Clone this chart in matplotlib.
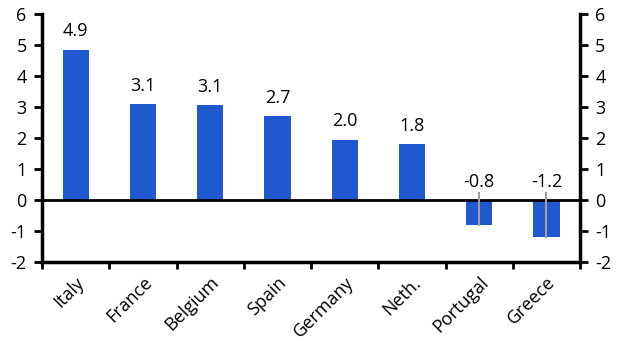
import matplotlib.pyplot as plt

plt.rcParams['font.family'] = ['Open Sans', 'DejaVu Sans']
plt.rcParams['axes.unicode_minus'] = False

countries = ['Italy', 'France', 'Belgium', 'Spain', 'Germany', 'Neth.', 'Portugal', 'Greece']
values = [4.85, 3.1, 3.05, 2.7, 1.95, 1.8, -0.8, -1.2]
labels = ['4.9', '3.1', '3.1', '2.7', '2.0', '1.8', '-0.8', '-1.2']

fig = plt.figure(figsize=(6.28, 3.58), dpi=100)
ax = fig.add_axes([0.0669, 0.268, 0.8567, 0.693])

x = list(range(len(countries)))
ax.bar(x, values, width=0.39, color='#1f58cf', zorder=2)
ax.axhline(0, color='black', lw=2, zorder=3)

for i, (v, lab) in enumerate(zip(values, labels)):
    if v >= 0:
        ax.text(i, v + 0.3, lab, ha='center', va='bottom', fontsize=13)
    else:
        ax.plot([i, i], [0.22, v], color='#a0a0a0', lw=1.5, zorder=4)
        ax.text(i, 0.3, lab, ha='center', va='bottom', fontsize=13)

ax.set_xlim(-0.5, len(countries) - 0.5)
ax.set_ylim(-2, 6)
ax.set_yticks(range(-2, 7))
ax.set_xticks([i - 0.5 for i in range(len(countries) + 1)])
ax.set_xticklabels([])
ax.set_xticks(x, minor=True)
ax.set_xticklabels(countries, minor=True, rotation=45, ha='right',
                   rotation_mode='anchor', fontsize=13)
ax.tick_params(axis='x', which='minor', length=0, pad=8)
ax.tick_params(axis='x', which='major', length=5, width=2)
ax.tick_params(axis='y', length=6, width=2, labelsize=13, pad=5,
               right=True, labelright=True)

ax.spines['top'].set_visible(False)
for s in ['left', 'right', 'bottom']:
    ax.spines[s].set_linewidth(2.5)

fig.savefig('out.png')
